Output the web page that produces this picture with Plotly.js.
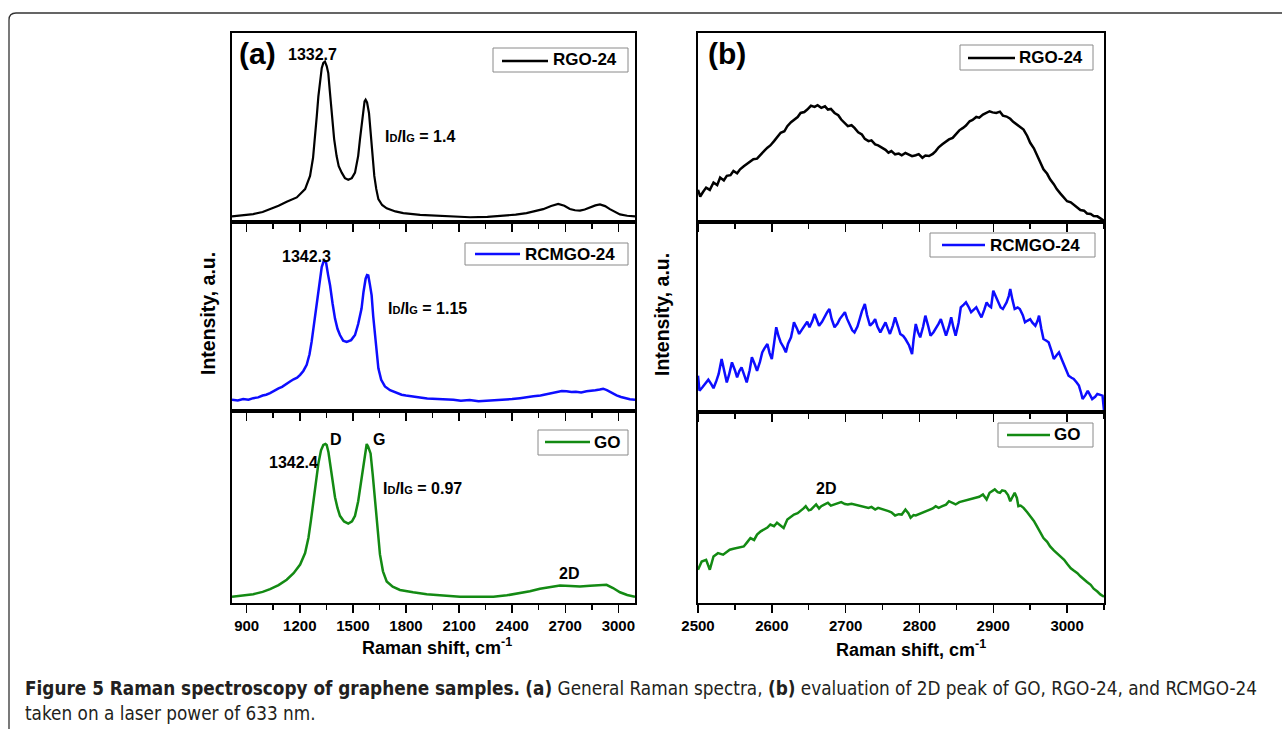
<!DOCTYPE html>
<html>
<head>
<meta charset="utf-8">
<script src="https://cdn.plot.ly/plotly-3.0.1.min.js"></script>
<style>
  html, body { margin: 0; padding: 0; background: #fff; }
  #chart { width: 1282px; height: 729px; }
</style>
</head>
<body>
<div id="chart"></div>
<script>
// ---------- Data (intensity in arbitrary units, 0-100 per panel) ----------
// Panel (a): general Raman spectra
const a_rgo_x = [817,880,937,990,1032,1080,1126,1183,1230,1258,1275,1286,1296,1305,1315,1324,1333,1342,1352,1361,1370,1380,1394,1408,1420,1437,1455,1474,1494,1512,1530,1540,1550,1559,1566,1572,1580,1591,1598,1606,1614,1621,1632,1644,1665,1691,1740,1785,1880,1973,2070,2162,2260,2350,2420,2481,2530,2575,2620,2660,2695,2726,2755,2783,2810,2840,2870,2896,2925,2952,2980,3009,3050,3094];
const a_rgo_y = [3.0,3.6,4.2,5.3,6.8,8.6,10.7,13.0,17.4,24.4,34,43.7,56,66.5,75,81.4,84.2,84.9,82.5,78.8,69,57.7,44,34.9,29.5,26.1,23.2,22.3,23.2,26.1,35,43.7,52.5,60.4,63.8,64.7,63.3,57.7,49,40.2,31.5,24.4,17.5,12.1,9.0,7.2,5.6,4.7,3.8,3.3,2.8,2.5,2.7,3.3,3.9,4.7,5.7,6.8,8.5,9.6,8.6,6.9,6.2,6.0,6.6,7.7,8.8,9.3,8.4,6.8,5.3,4.0,3.3,3.0];

const a_rcm_x = [817,850,880,910,937,965,990,1010,1032,1055,1080,1100,1126,1145,1165,1185,1202,1220,1239,1255,1267,1282,1296,1310,1324,1336,1348,1360,1371,1385,1399,1413,1427,1445,1465,1490,1512,1530,1549,1560,1572,1580,1587,1596,1606,1615,1625,1635,1644,1660,1681,1710,1747,1775,1800,1840,1879,1920,1970,2020,2068,2110,2160,2210,2256,2300,2350,2400,2444,2480,2520,2560,2594,2620,2650,2680,2707,2735,2760,2790,2820,2845,2870,2895,2914,2935,2950,2970,2990,3015,3040,3065,3094];
const a_rcm_y = [6.0,5.6,6.3,6.0,6.8,7.2,8.2,8.6,9.5,10.8,12.0,12.8,14.7,15.6,16.8,17.6,19.1,21.2,24.4,30,36.7,47,57.7,68,76.2,79.5,78.8,72,66.5,57,48.9,43.5,40.2,37.2,36.5,37.5,40.2,46,54.2,63,70.0,71.9,71.7,67,61.2,50,40.2,30.5,22.6,16.5,13.0,11.0,9.5,8.6,8.2,7.5,7.2,6.6,6.5,6.2,6.0,5.4,5.8,5.2,5.4,5.6,5.9,6.3,6.8,7.1,7.8,8.2,8.9,9.3,9.8,10.6,10.4,10.0,10.2,9.8,10.4,10.6,11.0,11.4,11.8,11.0,10.2,9.3,8.3,7.4,6.8,6.2,6.0];

const a_go_x = [817,880,937,990,1032,1080,1126,1165,1202,1230,1249,1263,1277,1291,1305,1320,1333,1345,1352,1362,1371,1385,1399,1413,1427,1450,1474,1495,1512,1530,1549,1562,1572,1578,1586,1600,1612,1625,1640,1653,1670,1691,1725,1766,1840,1917,2010,2105,2200,2294,2370,2444,2500,2557,2615,2670,2730,2783,2840,2896,2933,2970,3009,3050,3094];
const a_go_y = [3.3,3.9,4.6,5.8,7.2,9.3,12.1,15.5,20.0,26,34.0,43,53.3,63.5,72.6,79.5,82.3,82.8,82.3,78.5,72.6,63,55.1,49.5,45.4,42.5,41.4,42.5,45.4,53,65.6,75,81.5,82.8,81.5,77.9,67,53.3,38,25.3,16.5,11.2,8.5,6.8,5.6,4.6,3.9,3.3,3.2,3.3,4.0,5.1,6.1,7.4,8.4,9.1,8.9,8.6,9.0,9.5,9.5,7.8,5.6,4.2,3.3];

// Panel (b): 2D region
const b_rgo_x = [2500,2503,2507,2511,2516,2521,2526,2530,2535,2539,2544,2548,2553,2557,2562,2566,2570,2575,2580,2585,2590,2594,2598,2603,2608,2612,2617,2621,2626,2630,2635,2639,2644,2648,2653,2658,2662,2667,2672,2676,2680,2685,2690,2694,2699,2703,2708,2712,2717,2722,2726,2731,2735,2740,2744,2749,2754,2758,2762,2767,2772,2776,2781,2785,2790,2795,2799,2804,2808,2813,2818,2822,2826,2831,2836,2840,2845,2849,2854,2859,2863,2868,2872,2877,2881,2886,2890,2895,2899,2904,2909,2913,2918,2923,2927,2932,2936,2941,2946,2950,2955,2959,2964,2968,2973,2977,2982,2986,2991,2996,3000,3005,3009,3014,3018,3023,3027,3032,3036,3041,3045,3050];
const b_rgo_y = [17,13.5,16.0,18.2,17.0,20.9,19.5,23.5,22.0,24.4,24.8,27.0,25.8,27.9,29.5,30.5,31.8,33.2,33.5,35.8,37.8,39.3,40.5,42.8,45.5,47.2,48.0,50.7,52.8,54.2,55.5,57.7,58.2,59.5,61.5,60.9,61.8,60.4,61.2,59.5,59.8,57.7,56.5,54.2,52.2,50.7,51.2,49.8,47.5,46.3,44.0,42.8,43.2,41.1,40.5,39.3,38.2,36.7,37.5,35.8,36.2,35.3,36.5,35.8,34.8,35.3,35.9,34.0,35.2,34.9,36.0,37.5,39.5,41.1,42.5,43.7,44.5,46.3,48.5,49.8,51.0,53.3,54.0,55.6,55.2,56.8,57.5,58.6,58.0,57.7,58.4,56.3,55.8,54.6,53.0,51.6,50.5,48.9,45.5,41.9,39.0,35.8,31.5,27.9,25.5,22.6,20.0,17.4,15.0,13.0,11.0,10.4,9.0,7.7,6.3,6.0,4.5,4.2,3.2,3.0,2.0,0.7];

const b_rcm_x = [2500,2502,2506,2511,2514,2518,2521,2525,2528,2532,2536,2539,2542,2546,2550,2553,2556,2559,2563,2566,2570,2573,2577,2580,2584,2587,2590,2594,2597,2600,2603,2606,2609,2612,2616,2619,2622,2626,2628,2630,2634,2637,2641,2644,2648,2651,2655,2658,2661,2664,2668,2671,2675,2678,2681,2685,2689,2692,2695,2699,2702,2706,2709,2712,2716,2719,2722,2726,2729,2733,2737,2740,2743,2747,2751,2754,2757,2760,2764,2767,2771,2774,2778,2781,2786,2790,2792,2795,2798,2801,2805,2808,2812,2815,2819,2822,2826,2829,2833,2836,2840,2843,2846,2849,2853,2856,2860,2863,2867,2870,2874,2877,2881,2884,2888,2891,2894,2897,2900,2904,2907,2910,2913,2916,2918,2921,2923,2926,2929,2933,2936,2940,2943,2946,2950,2953,2957,2960,2962,2965,2968,2972,2975,2979,2982,2986,2989,2993,2996,2999,3002,3006,3009,3013,3016,3019,3021,3025,3028,3031,3034,3038,3041,3045,3048,3050];
const b_rcm_y = [19.1,11.2,13.0,15.6,17.0,14.7,12.5,16.5,20.0,27.9,21.0,15.6,19.5,26.1,22.0,18.2,21.5,23.5,19.0,15.6,22.0,28.8,25.0,21.7,26.5,31.4,33.5,35.8,31.0,27.9,36.0,44.6,40.0,36.7,34.0,31.4,36.0,39.3,43.0,47.2,44.0,41.1,43.5,45.4,47.5,44.6,48.0,51.6,48.5,45.4,47.5,49.8,52.5,54.2,49.0,44.6,46.5,48.9,50.5,52.5,49.0,45.4,43.0,41.9,45.0,48.9,53.0,56.8,51.0,45.4,47.0,48.9,45.0,41.9,44.5,47.2,44.0,41.1,45.5,49.8,45.0,41.1,40.0,38.4,35.0,30.5,38.0,46.3,42.0,39.3,45.0,50.7,45.0,40.2,42.0,43.7,46.5,48.9,44.0,40.2,45.0,49.8,44.5,40.2,47.0,55.1,56.5,57.7,55.0,52.5,54.0,55.1,52.0,49.8,54.0,57.7,56.0,55.1,63.8,60.0,56.8,55.0,54.2,56.0,57.7,61.0,64.7,59.0,54.2,55.0,54.2,51.0,47.2,48.0,48.9,47.0,45.4,48.0,50.7,44.0,38.4,37.5,36.7,32.0,27.9,30.0,31.4,27.5,24.4,21.5,19.1,18.0,17.4,15.5,13.9,10.0,6.8,9.0,11.2,9.0,6.8,8.0,9.5,9.0,8.6,0.7];

const b_go_x = [2500,2505,2511,2516,2521,2527,2534,2539,2543,2548,2553,2557,2562,2567,2571,2576,2580,2585,2589,2594,2598,2603,2607,2612,2616,2621,2626,2630,2635,2639,2643,2646,2650,2653,2657,2660,2664,2667,2671,2676,2680,2685,2690,2694,2699,2703,2708,2712,2717,2722,2726,2731,2735,2740,2744,2749,2754,2758,2762,2767,2772,2776,2781,2785,2788,2792,2795,2799,2804,2808,2813,2818,2822,2826,2831,2836,2840,2845,2849,2854,2859,2863,2868,2872,2877,2881,2886,2891,2895,2899,2902,2906,2909,2912,2916,2920,2923,2926,2929,2932,2934,2937,2941,2946,2950,2955,2959,2964,2968,2973,2977,2982,2986,2991,2996,3000,3005,3009,3014,3018,3023,3027,3032,3036,3041,3045,3050];
const b_go_y = [17.4,21.7,22.6,17.4,24.4,26.1,25.3,27.0,27.9,28.4,28.8,29.2,29.6,32.0,34.0,33.0,35.8,37.5,38.4,39.5,41.1,40.2,42.0,40.5,39.3,43.7,45.0,46.3,47.0,48.1,49.5,50.7,48.5,48.9,50.5,51.6,49.5,50.7,51.5,52.5,51.0,51.6,52.2,52.8,51.8,51.6,52.0,51.6,51.0,50.7,50.2,49.8,50.3,48.9,49.8,49.3,48.5,48.1,47.5,45.8,46.5,46.3,48.9,47.0,44.6,46.0,45.8,46.5,47.2,48.0,48.9,49.5,50.7,49.8,50.7,51.5,53.3,52.5,51.6,52.8,53.3,53.8,54.2,54.8,55.1,55.6,56.8,54.2,57.7,58.5,59.5,58.0,57.7,59.0,58.6,56.5,53.3,55.5,57.7,55.0,50.7,51.0,49.8,47.5,45.4,43.0,40.2,37.0,34.0,32.0,29.6,27.5,26.1,24.5,22.6,20.5,18.2,17.0,15.6,14.0,12.1,11.0,9.5,7.5,6.0,4.5,3.3];

// Tick labels
const ticksA = [900,1200,1500,1800,2100,2400,2700,3000];
const ticksB = [2500,2600,2700,2800,2900,3000];

// Series names and colours
const names = ['RGO-24','RCMGO-24','GO'];
const colors = ['#000000','#0d0dff','#138a13'];

// ---------- Helpers (pixel -> paper) ----------
const W = 1282, H = 729;
const px = x => x / W;
const py = y => 1 - y / H;

// Plot geometry
const aX = [232, 635], bX = [698, 1104];
const rowsA = [[33,222],[222,411],[411,603]];
const rowsB = [[33,222],[222,412],[412,603]];

const FAM = 'Liberation Sans, Arial, sans-serif';
const traces = [];
const seriesA = [[a_rgo_x,a_rgo_y],[a_rcm_x,a_rcm_y],[a_go_x,a_go_y]];
const seriesB = [[b_rgo_x,b_rgo_y],[b_rcm_x,b_rcm_y],[b_go_x,b_go_y]];
seriesA.forEach((s,i) => traces.push({x:s[0], y:s[1], type:'scatter', mode:'lines', name:names[i],
  xaxis: i===0?'x':'x'+(i+1), yaxis: i===0?'y':'y'+(i+1), showlegend:false,
  line:{color:colors[i], width: i===0?2.2:2.5}, hoverinfo:'x+y'}));
seriesB.forEach((s,i) => traces.push({x:s[0], y:s[1], type:'scatter', mode:'lines', name:names[i],
  xaxis:'x'+(i+4), yaxis:'y'+(i+4), showlegend:false,
  line:{color:colors[i], width: 2.5}, hoverinfo:'x+y'}));

const tickFont = {family:FAM, size:15, color:'#000', weight:'bold'};

function xAxis(domain, range, tickvals, minorD, showLabels, anchor) {
  return {domain:[px(domain[0]), px(domain[1])], range:range, anchor:anchor,
    tickmode:'array', tickvals:tickvals, ticktext:tickvals.map(String),
    showticklabels:showLabels, ticks:'outside', ticklen:8, tickwidth:1.5, tickcolor:'#000',
    minor:{dtick:minorD, tick0:tickvals[0], ticks:'outside', ticklen:5, tickwidth:1.5, tickcolor:'#000', showgrid:false},
    showline:true, linecolor:'#000', linewidth:1.8, mirror:true,
    showgrid:false, zeroline:false, tickfont:tickFont, fixedrange:true};
}
function yAxis(row, anchor) {
  return {domain:[py(row[1]), py(row[0])], range:[0,100], anchor:anchor,
    showticklabels:false, ticks:'', showline:true, linecolor:'#000', linewidth:1.8, mirror:true,
    showgrid:false, zeroline:false, fixedrange:true};
}

const layout = {
  width:W, height:H, margin:{l:0,r:0,t:0,b:0},
  paper_bgcolor:'#fff', plot_bgcolor:'#fff', showlegend:false,
  font:{family:FAM, color:'#000'},
  xaxis:  xAxis(aX, [817,3094], ticksA, 150, false, 'y'),
  xaxis2: xAxis(aX, [817,3094], ticksA, 150, false, 'y2'),
  xaxis3: xAxis(aX, [817,3094], ticksA, 150, true,  'y3'),
  xaxis4: xAxis(bX, [2500,3050], ticksB, 50, false, 'y4'),
  xaxis5: xAxis(bX, [2500,3050], ticksB, 50, false, 'y5'),
  xaxis6: xAxis(bX, [2500,3050], ticksB, 50, true,  'y6'),
  yaxis:  yAxis(rowsA[0], 'x'),
  yaxis2: yAxis(rowsA[1], 'x2'),
  yaxis3: yAxis(rowsA[2], 'x3'),
  yaxis4: yAxis(rowsB[0], 'x4'),
  yaxis5: yAxis(rowsB[1], 'x5'),
  yaxis6: yAxis(rowsB[2], 'x6'),
  shapes: [],
  annotations: []
};

// Outer rounded frame
layout.shapes.push({type:'path', xref:'paper', yref:'paper', layer:'above',
  path:`M ${px(9)} ${py(729)} L ${px(9)} ${py(20)} Q ${px(9)} ${py(13)} ${px(16)} ${py(13)} L ${px(1282)} ${py(13)}`,
  line:{color:'#333', width:1.3}});

// Legend boxes (drawn)
const legends = [
  {box:[493,48,628,72],  line:[502,548,61],  text:551,  name:0},
  {box:[465,243,628,265],line:[475,520,254], text:523,  name:1},
  {box:[538,430,628,455],line:[545,590,442], text:592,  name:2},
  {box:[960,45,1093,70], line:[968,1015,58], text:1017, name:0},
  {box:[930,233,1095,257],line:[942,985,245],text:988,  name:1},
  {box:[998,423,1093,447],line:[1007,1050,435],text:1052,name:2}
];
legends.forEach(L => {
  layout.shapes.push({type:'rect', xref:'paper', yref:'paper', x0:px(L.box[0]), x1:px(L.box[2]), y0:py(L.box[3]), y1:py(L.box[1]),
    line:{color:'#8a8a8a', width:1}, fillcolor:'rgba(255,255,255,0)', layer:'above'});
  layout.shapes.push({type:'line', xref:'paper', yref:'paper', x0:px(L.line[0]), x1:px(L.line[1]), y0:py(L.line[2]), y1:py(L.line[2]),
    line:{color:colors[L.name], width:2.5}, layer:'above'});
  layout.annotations.push({xref:'paper', yref:'paper', x:px(L.text), y:py((L.box[1]+L.box[3])/2), xanchor:'left', yanchor:'middle',
    text:'<b>'+names[L.name]+'</b>', showarrow:false, font:{size:17, color:'#000', family:FAM}});
});

function ann(x, y, text, size, extra) {
  layout.annotations.push(Object.assign({xref:'paper', yref:'paper', x:px(x), y:py(y), xanchor:'center', yanchor:'middle',
    text:text, showarrow:false, font:{size:size, color:'#000', family:FAM}}, extra||{}));
}
const sub = s => '<span style="font-size:11px">'+s+'</span>';
ann(257, 53, '<b>(a)</b>', 30);
ann(727, 53, '<b>(b)</b>', 30);
ann(312, 54, '<b>1332.7</b>', 16);
ann(383, 137, '<b>I'+sub('D')+'/I'+sub('G')+' = 1.4</b>', 16, {xanchor:'left'});
ann(306, 256, '<b>1342.3</b>', 16);
ann(386, 308, '<b>I'+sub('D')+'/I'+sub('G')+' = 1.15</b>', 16, {xanchor:'left'});
ann(336, 440, '<b>D</b>', 16);
ann(379, 440, '<b>G</b>', 16);
ann(293, 463, '<b>1342.4</b>', 16);
ann(381, 488, '<b>I'+sub('D')+'/I'+sub('G')+' = 0.97</b>', 16, {xanchor:'left'});
ann(569, 573, '<b>2D</b>', 16);
ann(826, 488, '<b>2D</b>', 16);

// Axis titles
ann(437, 646, '<b>Raman shift, cm<sup>-1</sup></b>', 18);
ann(911, 648, '<b>Raman shift, cm<sup>-1</sup></b>', 18);
ann(208, 314, '<b>Intensity, a.u.</b>', 19.5, {textangle:-90});
ann(662, 315, '<b>Intensity, a.u.</b>', 19.5, {textangle:-90});

// Caption
const capFont = {family:'Liberation Sans Narrow, DejaVu Sans Condensed, Arial Narrow, sans-serif', size:18.8, color:'#231f20'};
layout.annotations.push({xref:'paper', yref:'paper', x:px(23), y:py(688), xanchor:'left', yanchor:'middle', showarrow:false, align:'left',
  text:'<b>Figure 5 Raman spectroscopy of graphene samples.</b> <b>(a)</b> General Raman spectra, <b>(b)</b> evaluation of 2D peak of GO, RGO-24, and RCMGO-24',
  font:capFont});
layout.annotations.push({xref:'paper', yref:'paper', x:px(23), y:py(713), xanchor:'left', yanchor:'middle', showarrow:false, align:'left',
  text:'taken on a laser power of 633 nm.', font:capFont});

Plotly.newPlot('chart', traces, layout, {displayModeBar:false, staticPlot:true});
</script>
</body>
</html>
